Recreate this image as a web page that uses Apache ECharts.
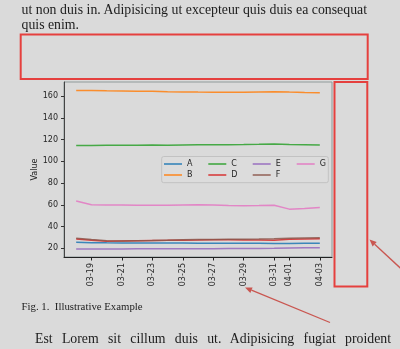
<!DOCTYPE html>
<html><head><meta charset="utf-8">
<script src="https://cdn.jsdelivr.net/npm/echarts@6/dist/echarts.min.js"></script>
<style>
html,body{margin:0;padding:0;background:#dadada;width:400px;height:349px;overflow:hidden;}
#chart{position:absolute;left:0;top:0;width:400px;height:349px;}
.t{position:absolute;font-family:"Liberation Serif","Times New Roman",serif;color:#1c1c1c;white-space:nowrap;}
.j{text-align:justify;text-align-last:justify;}
</style></head><body>
<div id="chart"></div>
<div class="t j" style="left:21.5px;top:2px;width:345.5px;font-size:13.8px;line-height:15.3px;">ut non duis in. Adipisicing ut excepteur quis duis ea consequat</div>
<div class="t" style="left:21.5px;top:17.3px;font-size:13.8px;line-height:15.3px;">quis enim.</div>
<div class="t" style="left:21.5px;top:300px;font-size:10.8px;line-height:12px;">Fig. 1.&nbsp;&nbsp;Illustrative Example</div>
<div class="t j" style="left:35px;top:331px;width:356px;font-size:13.8px;line-height:15.3px;">Est Lorem sit cillum duis ut. Adipisicing fugiat proident</div>
<script>
const dates = ['03-18','03-19','03-20','03-21','03-22','03-23','03-24','03-25','03-26','03-27','03-28','03-29','03-30','03-31','04-01','04-02','04-03'];
const xTickDays = [1,3,5,7,9,11,13,14,16];
const yTicks = [20,40,60,80,100,120,140,160];
const seriesNames = ['A','B','C','D','E','F','G'];
const A = [25.5,25.2,25.0,24.9,24.9,24.8,24.8,24.8,24.7,24.7,24.6,24.6,24.6,24.5,24.5,24.6,24.7];
const B = [165.0,165.0,164.8,164.7,164.5,164.3,164.0,163.8,163.6,163.5,163.4,163.5,163.8,164.0,163.6,163.3,163.1];
const C = [114.5,114.6,114.7,114.8,114.8,114.9,114.8,115.0,115.2,115.3,115.3,115.4,115.6,115.9,115.4,115.2,115.0];
const D = [28.5,27.5,26.5,26.8,27.0,27.2,27.3,27.5,27.6,27.8,27.8,27.7,27.6,27.5,28.3,28.6,28.8];
const E = [19.3,19.3,19.4,19.4,19.5,19.5,19.6,19.6,19.7,19.7,19.8,19.8,19.9,20.0,20.3,20.5,20.6];
const F = [29.3,28.0,27.0,26.8,27.0,27.2,27.5,27.8,28.0,28.2,28.3,28.4,28.5,28.7,29.2,29.5,29.8];
const G = [63.5,60.0,59.8,59.7,59.6,59.6,59.6,59.8,60.0,59.8,59.3,59.2,59.3,59.6,56.0,56.6,57.5];
const seriesValues = [A,B,C,D,E,F,G];
const colors = ['#1f77b4','#ff7f0e','#2ca02c','#d62728','#9467bd','#8c564b','#e377c2'];

const font = 'DejaVu Sans';
const txt = '#262626';

const legendPos = {A:[164,164],B:[164,175],C:[208.3,164],D:[208.3,175],E:[252.7,164],F:[252.7,175],G:[296.7,164]};
const legends = seriesNames.map(n => ({
  data:[n], left:legendPos[n][0], top:legendPos[n][1]-5, padding:0,
  icon:'rect', itemWidth:18, itemHeight:1.4, itemGap:0,
  textStyle:{fontFamily:font,fontSize:8,color:txt,lineHeight:10},
  selectedMode:false
}));

function arrow(tip, tail, color){
  const dx = tip[0]-tail[0], dy = tip[1]-tail[1];
  const L = Math.hypot(dx,dy), ux = dx/L, uy = dy/L;
  const hl = 7, hw = 3;
  const bx = tip[0]-ux*hl, by = tip[1]-uy*hl;
  return [
    {type:'line', z:10, shape:{x1:tail[0],y1:tail[1],x2:bx,y2:by}, style:{stroke:color,lineWidth:1.3}},
    {type:'polygon', z:10, shape:{points:[tip,[bx-uy*hw,by+ux*hw],[bx+uy*hw,by-ux*hw]]}, style:{fill:color}}
  ];
}

const chart = echarts.init(document.getElementById('chart'), null, {renderer:'canvas'});
chart.setOption({
  backgroundColor:'#dadada',
  animation:false,
  grid:{left:64, top:82, width:268, height:175, show:true, borderColor:'#8f9a9a', borderWidth:1, backgroundColor:'transparent'},
  xAxis:{type:'value', min:-0.8, max:16.8,
    axisLine:{onZero:false, lineStyle:{color:'#222',width:1}},
    axisTick:{customValues:xTickDays, length:3.5, lineStyle:{color:'#222'}},
    axisLabel:{customValues:xTickDays, rotate:90, margin:6, fontFamily:font, fontSize:8, color:txt,
      formatter:v => dates[Math.round(v)]},
    splitLine:{show:false}},
  yAxis:{type:'value', min:12, max:172.9, name:'Value', nameLocation:'middle', nameGap:25, nameMoveOverlap:false,
    nameTextStyle:{fontFamily:font,fontSize:8,color:txt},
    axisLine:{show:true,onZero:false, lineStyle:{color:'#444',width:1}},
    axisTick:{show:true, customValues:yTicks, length:3, lineStyle:{color:'#333'}},
    axisLabel:{customValues:yTicks, margin:6, fontFamily:font, fontSize:8, color:txt},
    splitLine:{show:false}},
  legend:legends,
  series:seriesNames.map((n,i)=>({
    name:n, type:'line', showSymbol:false, symbol:'none', color:colors[i],
    lineStyle:{width:1.5, color:colors[i], opacity:0.85},
    data:seriesValues[i].map((v,j)=>[j,v])
  })),
  graphic:[
    {type:'rect', z:3, shape:{x:161.7,y:156.5,width:166.6,height:26.2,r:2}, style:{fill:'#dcdcdc',stroke:'#c2c2c2',lineWidth:1}},
    {type:'rect', z:10, shape:{x:20.7,y:34.5,width:347,height:44.5}, style:{fill:'none',stroke:'#e5403e',lineWidth:2}},
    {type:'rect', z:10, shape:{x:334.5,y:82,width:32.8,height:204.5}, style:{fill:'none',stroke:'#e5403e',lineWidth:2}},
    ...arrow([369.5,239.5],[410,277],'#c95650'),
    ...arrow([245,287.5],[330,322.5],'#c95650')
  ]
});
</script>
</body></html>
